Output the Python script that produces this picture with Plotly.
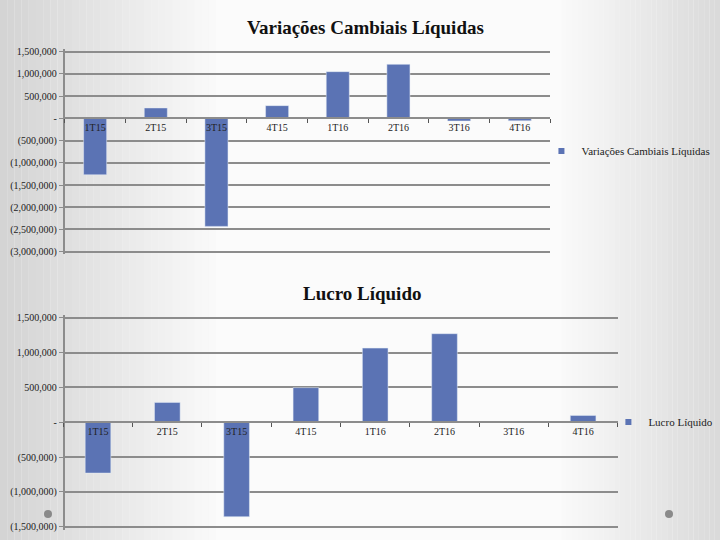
import plotly.graph_objects as go

# data
quarters = ["1T15", "2T15", "3T15", "4T15", "1T16", "2T16", "3T16", "4T16"]
variacoes = [-1270000, 234000, -2430000, 286000, 1050000, 1215000, -60000, -55000]
lucro = [-730000, 284000, -1356000, 496000, 1063000, 1270000, 0, 97000]

top_tickvals = [1500000, 1000000, 500000, 0, -500000, -1000000, -1500000, -2000000, -2500000, -3000000]
top_ticktext = ["1,500,000", "1,000,000", "500,000", "-", "(500,000)", "(1,000,000)",
                "(1,500,000)", "(2,000,000)", "(2,500,000)", "(3,000,000)"]
bot_tickvals = [1500000, 1000000, 500000, 0, -500000, -1000000, -1500000]
bot_ticktext = ["1,500,000", "1,000,000", "500,000", "-", "(500,000)", "(1,000,000)", "(1,500,000)"]

BAR = "#5b73b4"
GRID = "#8c8c8c"
FONT = "Liberation Serif"

# ranges padded a little so the outer gridlines are still drawn
top_range = [-3060000, 1560000]
bot_range = [-1540000, 1540000]
top_dom = [0.5289, 0.9093]
bot_dom = [0.0194, 0.4169]


def zero_pos(rng, dom):
    frac = (0 - rng[0]) / (rng[1] - rng[0])
    return dom[0] + frac * (dom[1] - dom[0])


fig = go.Figure()

fig.add_trace(go.Bar(x=quarters, y=variacoes, name="Variações Cambiais Líquidas",
                     marker_color=BAR, width=0.38, xaxis="x", yaxis="y", showlegend=False))
fig.add_trace(go.Bar(x=quarters, y=lucro, name="Lucro Líquido",
                     marker_color=BAR, width=0.37, xaxis="x2", yaxis="y2", showlegend=False))

# legend entries with the small square key of the original
fig.add_trace(go.Scatter(x=[None], y=[None], mode="markers", name="Variações Cambiais Líquidas",
                         marker=dict(symbol="square", size=6, color=BAR),
                         xaxis="x", yaxis="y", legend="legend", showlegend=True))
fig.add_trace(go.Scatter(x=[None], y=[None], mode="markers", name="Lucro Líquido",
                         marker=dict(symbol="square", size=6, color=BAR),
                         xaxis="x2", yaxis="y2", legend="legend2", showlegend=True))

axis_font = dict(family=FONT, size=10, color="#222")
legend_font = dict(family=FONT, size=11, color="#222")

fig.update_layout(
    width=720, height=540,
    margin=dict(l=0, r=0, t=0, b=0, autoexpand=False),
    paper_bgcolor="#f6f6f6",
    plot_bgcolor="rgba(0,0,0,0)",
    font=dict(family=FONT, color="#111"),
    showlegend=True,
    xaxis=dict(domain=[0.090, 0.764], anchor="free", position=zero_pos(top_range, top_dom),
               showline=True, linecolor=GRID, linewidth=2, ticks="outside", tickson="boundaries",
               ticklen=4, tickcolor="#555", showgrid=False, tickfont=axis_font),
    yaxis=dict(domain=top_dom, range=top_range, tickvals=top_tickvals, ticktext=top_ticktext,
               showgrid=True, gridcolor=GRID, gridwidth=2, zeroline=False,
               showline=True, linecolor=GRID, linewidth=2, ticks="outside", ticklen=4,
               tickcolor=GRID, tickfont=axis_font),
    xaxis2=dict(domain=[0.088, 0.858], anchor="free", position=zero_pos(bot_range, bot_dom),
                showline=True, linecolor=GRID, linewidth=2, ticks="outside", tickson="boundaries",
                ticklen=4, tickcolor="#555", showgrid=False, tickfont=axis_font),
    yaxis2=dict(domain=bot_dom, range=bot_range, tickvals=bot_tickvals, ticktext=bot_ticktext,
                showgrid=True, gridcolor=GRID, gridwidth=2, zeroline=False,
                showline=True, linecolor=GRID, linewidth=2, ticks="outside", ticklen=4,
                tickcolor=GRID, tickfont=axis_font),
    legend=dict(x=0.752, y=1 - 151 / 540, yanchor="middle", xanchor="left",
                bgcolor="rgba(0,0,0,0)", font=legend_font, itemwidth=30),
    legend2=dict(x=0.845, y=1 - 422 / 540, yanchor="middle", xanchor="left",
                 bgcolor="rgba(0,0,0,0)", font=legend_font, itemwidth=30),
)

# titles
fig.add_annotation(text="<b>Variações Cambiais Líquidas</b>", x=0.508, y=1 - 27 / 540,
                   xref="paper", yref="paper", showarrow=False, yanchor="middle",
                   font=dict(family=FONT, size=19, color="#111"))
fig.add_annotation(text="<b>Lucro Líquido</b>", x=0.503, y=1 - 293 / 540,
                   xref="paper", yref="paper", showarrow=False, yanchor="middle",
                   font=dict(family=FONT, size=19, color="#111"))

# slide background: soft grey edges fading to white
shapes = []
n = 30
for i in range(n):
    t = i / n
    g = int(212 + (251 - 212) * t)
    shapes.append(dict(type="rect", xref="paper", yref="paper", layer="below",
                       x0=t * 0.3, x1=(i + 1) / n * 0.3, y0=0, y1=1,
                       line_width=0, fillcolor=f"rgb({g},{g},{g})"))
    g2 = int(218 + (251 - 218) * t)
    shapes.append(dict(type="rect", xref="paper", yref="paper", layer="below",
                       x0=1 - (i + 1) / n * 0.22, x1=1 - t * 0.22, y0=0, y1=1,
                       line_width=0, fillcolor=f"rgb({g2},{g2},{g2})"))
shapes.append(dict(type="rect", xref="paper", yref="paper", layer="below",
                   x0=0.3, x1=0.78, y0=0, y1=1, line_width=0, fillcolor="rgb(251,251,251)"))
# decorative dots of the slide template
for cx in (48, 669):
    shapes.append(dict(type="circle", xref="paper", yref="paper",
                       x0=(cx - 4) / 720, x1=(cx + 4) / 720, y0=1 - 518 / 540, y1=1 - 510 / 540,
                       line_width=0, fillcolor="#8a8a8a"))
fig.update_layout(shapes=shapes)

# drop the default page margin so the 720x540 figure fills the window
fig.write_html("out.html", config={"displayModeBar": False},
               post_script="document.body.style.margin='0';")
